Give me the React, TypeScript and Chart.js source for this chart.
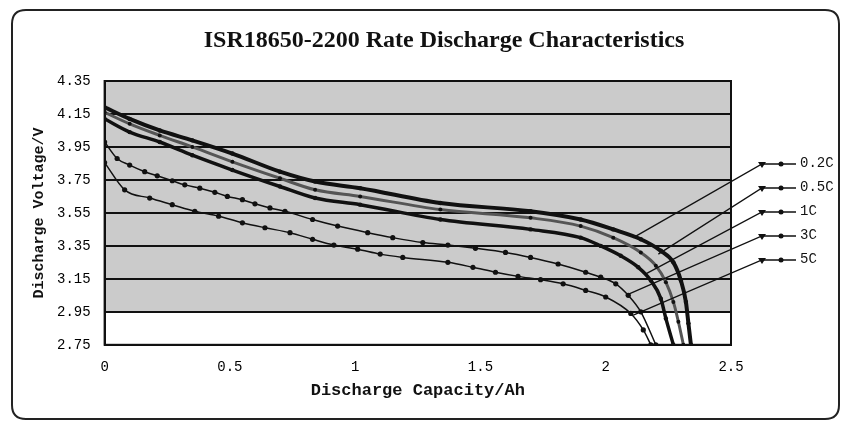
import React, { useEffect, useRef } from "react";
import { Chart, registerables } from "chart.js";

Chart.register(...registerables);

const titleText = "ISR18650-2200 Rate Discharge Characteristics";
const xTitle = "Discharge Capacity/Ah";
const yTitle = "Discharge Voltage/V";

const capacityTicks = [0, 0.5, 1, 1.5, 2, 2.5];
const voltageTicks = [2.75, 2.95, 3.15, 3.35, 3.55, 3.75, 3.95, 4.15, 4.35];

const seriesNames = ["0.2C", "0.5C", "1C", "3C", "5C"];

const cap02 = [0, 0.1, 0.22, 0.35, 0.51, 0.7, 0.84, 1.02, 1.34, 1.7, 1.9, 2.03, 2.14, 2.22, 2.27, 2.3, 2.32, 2.33, 2.34];
const volt02 = [4.19, 4.12, 4.05, 3.99, 3.91, 3.8, 3.74, 3.7, 3.61, 3.56, 3.51, 3.45, 3.39, 3.32, 3.25, 3.14, 3.01, 2.88, 2.75];

const cap05 = [0, 0.1, 0.22, 0.35, 0.51, 0.7, 0.84, 1.02, 1.34, 1.7, 1.9, 2.03, 2.14, 2.2, 2.24, 2.27, 2.29, 2.31];
const volt05 = [4.16, 4.09, 4.02, 3.95, 3.86, 3.76, 3.69, 3.65, 3.57, 3.52, 3.47, 3.4, 3.31, 3.23, 3.13, 3.01, 2.89, 2.75];

const cap1 = [0, 0.1, 0.22, 0.35, 0.51, 0.7, 0.84, 1.02, 1.34, 1.7, 1.9, 1.98, 2.06, 2.13, 2.18, 2.22, 2.24, 2.27];
const volt1 = [4.12, 4.04, 3.98, 3.9, 3.81, 3.71, 3.64, 3.6, 3.51, 3.45, 3.4, 3.35, 3.29, 3.22, 3.14, 3.03, 2.91, 2.75];

const cap3 = [0, 0.05, 0.1, 0.16, 0.21, 0.27, 0.32, 0.38, 0.44, 0.49, 0.55, 0.6, 0.66, 0.72, 0.83, 0.93, 1.05, 1.15, 1.27, 1.37, 1.48, 1.6, 1.7, 1.81, 1.92, 1.98, 2.04, 2.09, 2.14, 2.2];
const volt3 = [3.98, 3.88, 3.84, 3.8, 3.775, 3.745, 3.72, 3.7, 3.675, 3.65, 3.63, 3.605, 3.58, 3.56, 3.51, 3.47, 3.43, 3.4, 3.37, 3.355, 3.335, 3.31, 3.28, 3.24, 3.19, 3.16, 3.12, 3.05, 2.95, 2.75];

const cap5 = [0, 0.08, 0.18, 0.27, 0.36, 0.455, 0.55, 0.64, 0.74, 0.83, 0.915, 1.01, 1.1, 1.19, 1.37, 1.47, 1.56, 1.65, 1.74, 1.83, 1.92, 2.0, 2.1, 2.15, 2.18];
const volt5 = [3.855, 3.69, 3.64, 3.6, 3.56, 3.53, 3.49, 3.46, 3.43, 3.39, 3.355, 3.33, 3.3, 3.28, 3.25, 3.22, 3.19, 3.165, 3.145, 3.12, 3.08, 3.04, 2.94, 2.84, 2.75];

// where each legend leader line touches its curve
const leaderCap = [2.11, 2.21, 2.16, 2.08, 2.11];
const leaderVolt = [3.4, 3.3, 3.18, 3.05, 2.93];

const shadedTop = 4.35;
const shadedBottom = 2.95;

const monoFont = "'Liberation Mono', 'DejaVu Sans Mono', monospace";

const toPoints = (xs: number[], ys: number[]) => xs.map((x, i) => ({ x, y: ys[i] }));

const decorPlugin = {
  id: "decor",
  beforeDraw(chart: any) {
    const { ctx, chartArea } = chart;
    const y = chart.scales.y;
    const t = y.getPixelForValue(shadedTop);
    const b = y.getPixelForValue(shadedBottom);
    ctx.save();
    ctx.fillStyle = "#ffffff";
    ctx.fillRect(0, 0, chart.width, chart.height);
    ctx.fillStyle = "#cbcbcb";
    ctx.fillRect(chartArea.left, t, chartArea.right - chartArea.left, b - t);
    ctx.restore();
  },
  afterDraw(chart: any) {
    const { ctx, chartArea } = chart;
    const xs = chart.scales.x;
    const ys = chart.scales.y;
    ctx.save();
    // plot border
    ctx.strokeStyle = "#111";
    ctx.lineWidth = 2;
    ctx.strokeRect(chartArea.left, chartArea.top, chartArea.right - chartArea.left, chartArea.bottom - chartArea.top);
    // outer frame
    ctx.lineWidth = 2;
    ctx.strokeStyle = "#222";
    const fx = 12, fy = 10, fw = 827, fh = 409, r = 14;
    ctx.beginPath();
    ctx.moveTo(fx + r, fy);
    ctx.lineTo(fx + fw - r, fy);
    ctx.quadraticCurveTo(fx + fw, fy, fx + fw, fy + r);
    ctx.lineTo(fx + fw, fy + fh - r);
    ctx.quadraticCurveTo(fx + fw, fy + fh, fx + fw - r, fy + fh);
    ctx.lineTo(fx + r, fy + fh);
    ctx.quadraticCurveTo(fx, fy + fh, fx, fy + fh - r);
    ctx.lineTo(fx, fy + r);
    ctx.quadraticCurveTo(fx, fy, fx + r, fy);
    ctx.stroke();
    // title
    ctx.fillStyle = "#111";
    ctx.font = "bold 24px 'Liberation Serif', 'Times New Roman', serif";
    ctx.textAlign = "center";
    ctx.textBaseline = "middle";
    ctx.fillText(titleText, 444, 41);
    // legend with leader lines
    ctx.font = "14px " + monoFont;
    ctx.textAlign = "left";
    seriesNames.forEach((name, i) => {
      const ly = chartArea.top + 83 + i * 24;
      const tx = chartArea.right + 31;
      const ax = xs.getPixelForValue(leaderCap[i]);
      const ay = ys.getPixelForValue(leaderVolt[i]);
      ctx.strokeStyle = "#111";
      ctx.lineWidth = 1.3;
      ctx.beginPath();
      ctx.moveTo(ax, ay);
      ctx.lineTo(tx, ly);
      ctx.lineTo(tx + 34, ly);
      ctx.stroke();
      // triangle marker
      ctx.fillStyle = "#111";
      ctx.beginPath();
      ctx.moveTo(tx - 4, ly - 2);
      ctx.lineTo(tx + 4, ly - 2);
      ctx.lineTo(tx, ly + 4);
      ctx.closePath();
      ctx.fill();
      // dot
      ctx.beginPath();
      ctx.arc(tx + 19, ly, 2.5, 0, Math.PI * 2);
      ctx.fill();
      ctx.fillText(name, tx + 38, ly - 1);
    });
    ctx.restore();
  },
};

export default function App() {
  const ref = useRef<HTMLCanvasElement | null>(null);
  useEffect(() => {
    if (!ref.current) return;
    const mk = (i: number, xs: number[], ys: number[], color: string, bw: number, pr: number) => ({
      label: seriesNames[i],
      data: toPoints(xs, ys),
      borderColor: color,
      backgroundColor: "#111",
      borderWidth: bw,
      pointRadius: pr,
      pointBorderWidth: 0,
      pointBackgroundColor: "#111",
      cubicInterpolationMode: "monotone",
      fill: false,
    });
    const chart = new Chart(ref.current, {
      type: "line",
      data: {
        datasets: [
          mk(0, cap02, volt02, "#111", 4, 2.2),
          mk(1, cap05, volt05, "#555", 3, 2),
          mk(2, cap1, volt1, "#111", 3.5, 2.2),
          mk(3, cap3, volt3, "#111", 1.5, 2.6),
          mk(4, cap5, volt5, "#111", 1.5, 2.6),
        ] as any,
      },
      options: {
        animation: false,
        responsive: false,
        devicePixelRatio: 1,
        layout: { padding: { left: 11, right: 113, top: 81, bottom: 22 } },
        plugins: { legend: { display: false }, title: { display: false }, tooltip: { enabled: false } },
        scales: {
          x: {
            type: "linear",
            min: 0,
            max: 2.5,
            afterBuildTicks: (s: any) => {
              s.ticks = capacityTicks.map((v) => ({ value: v }));
            },
            grid: { display: false, drawTicks: false },
            border: { display: true, color: "#111", width: 2 },
            ticks: {
              padding: 14,
              color: "#000",
              font: { family: monoFont, size: 14 },
              callback: (v: any) => String(Number(v)),
            },
            title: {
              display: true,
              text: xTitle,
              color: "#111",
              font: { family: monoFont, size: 17, weight: "bold" },
              padding: { top: -9, bottom: 0 },
            },
          },
          y: {
            type: "linear",
            min: 2.75,
            max: 4.35,
            afterBuildTicks: (s: any) => {
              s.ticks = voltageTicks.map((v) => ({ value: v }));
            },
            grid: { color: "#111", lineWidth: 2, drawTicks: false },
            border: { display: true, color: "#111", width: 2 },
            ticks: {
              padding: 14,
              color: "#000",
              font: { family: monoFont, size: 14 },
              callback: (v: any) => Number(v).toFixed(2),
            },
            title: {
              display: true,
              text: yTitle,
              color: "#111",
              font: { family: monoFont, size: 15, weight: "bold" },
              padding: { top: 19, bottom: -5 },
            },
          },
        },
      },
      plugins: [decorPlugin],
    });
    return () => chart.destroy();
  }, []);
  return (
    <div style={{ position: "fixed", left: 0, top: 0, width: 844, height: 423, background: "#fff" }}>
      <canvas ref={ref} width={844} height={423} style={{ display: "block", width: 844, height: 423 }} />
    </div>
  );
}
